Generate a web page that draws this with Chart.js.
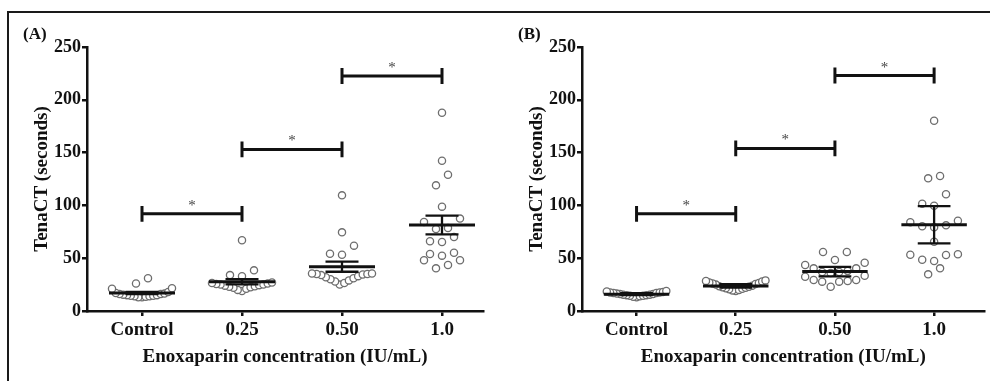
<!DOCTYPE html>
<html>
<head>
<meta charset="utf-8">
<script src="https://cdn.jsdelivr.net/npm/chart.js@4.4.1/dist/chart.umd.min.js"></script>
<style>
  html, body { margin: 0; padding: 0; background: #fff; }
  #page { position: relative; width: 990px; height: 381px; overflow: hidden; }
  .frame { position: absolute; left: 7px; top: 11px; right: -10px; bottom: -10px;
           border-top: 2px solid #1a1a1a; border-left: 2px solid #1a1a1a; }
  .panel { position: absolute; top: 0; width: 495px; height: 381px; }
  .tag { position: absolute; top: 24px; font: bold 17px 'Liberation Serif', serif; color: #111; }
</style>
</head>
<body>
<div id="page">
  <div class="frame"></div>
  <canvas id="chartA" class="panel" style="left:0" width="495" height="381"></canvas>
  <canvas id="chartB" class="panel" style="left:495px" width="495" height="381"></canvas>
  <div class="tag" style="left:23px">(A)</div>
  <div class="tag" style="left:518px">(B)</div>
</div>

<script>
// --- DATA ---
const categories = ['Control', '0.25', '0.50', '1.0'];
const yTicks = [0, 50, 100, 150, 200, 250];

// TenaCT (seconds), panel A
const aControl = [13, 13, 13.5, 14, 14, 14.5, 14.5, 15, 15, 15.5, 16, 16, 16.5, 17, 18, 21, 21.5, 26, 31];
const a025 = [19, 20, 21, 22, 22.5, 23, 23.5, 24, 24.5, 25, 25, 25.5, 26, 26.5, 27, 33, 34, 38.5, 67];
const a050 = [25, 26.5, 28, 29, 30, 31, 32, 33, 34, 34.5, 35, 35, 35.5, 35.5, 53.3, 54.2, 61.9, 74.5, 109.5];
const a100 = [40.4, 43.5, 48, 48, 52.4, 54, 55.2, 65.3, 66, 70, 77.6, 78.6, 84.3, 87.5, 98.8, 119, 129, 142.3, 187.8];

// TenaCT (seconds), panel B
const bControl = [13, 13.5, 14, 14.5, 14.5, 15, 15, 15.5, 15.5, 16, 16, 16.5, 17, 17, 17.5, 17.5, 18, 18.5, 19];
const b025 = [19, 19.5, 20, 20.5, 21, 21.5, 22, 22.5, 23, 23.5, 24, 25, 25.5, 26, 26.5, 27, 28, 28.5, 29];
const b050 = [23, 27.8, 27.8, 28.4, 29.4, 29.4, 32.5, 33.4, 36, 37, 37, 38, 40.4, 40.4, 43.6, 45.7, 48.3, 55.9, 55.9];
const b100 = [34.7, 40.4, 47.3, 48.6, 53, 53.3, 53.7, 65.6, 79.2, 80.2, 81.1, 84, 85.5, 99.7, 101.6, 110.5, 125.6, 127.8, 180.2];

// significance brackets: [from group, to group, height in seconds]
const aBrackets = [[0, 1, 92], [1, 2, 153], [2, 3, 222.5]];
const bBrackets = [[0, 1, 92], [1, 2, 154], [2, 3, 223]];

// A shows mean +/- SEM, B shows mean +/- 95% CI (t, df = 18)
const T95 = 2.101;

// --- LAYOUT HELPERS ---
const ROW_H = 11;     // seconds; values this close share a row of the dot plot
const STEP = 0.12;    // dot spacing inside a row (category units)
const HALF_W = 0.30;  // a row never gets wider than this either side
const FONT = "'Liberation Serif', 'Times New Roman', serif";

// Prism-like column scatter: rows of close values, lowest value in the middle
function swarm(values, cat) {
  const sorted = [...values].sort((p, q) => p - q);
  const rows = [];
  let row = [];
  sorted.forEach(v => {
    if (row.length && v - row[0] >= ROW_H) { rows.push(row); row = []; }
    row.push(v);
  });
  if (row.length) rows.push(row);

  const pts = [];
  rows.forEach(r => {
    const n = r.length;
    const step = n > 1 ? Math.min(STEP, 2 * HALF_W / (n - 1)) : 0;
    r.forEach((v, k) => {
      let slot;
      if (n % 2) slot = k === 0 ? 0 : (k % 2 ? -1 : 1) * Math.ceil(k / 2);
      else slot = (k % 2 ? 1 : -1) * (Math.floor(k / 2) + 0.5);
      pts.push({ x: cat + slot * step, y: v });
    });
  });
  return pts;
}

function stats(values) {
  const n = values.length;
  const mean = values.reduce((s, v) => s + v, 0) / n;
  const sd = Math.sqrt(values.reduce((s, v) => s + (v - mean) ** 2, 0) / (n - 1));
  return { mean, sem: sd / Math.sqrt(n) };
}

function lineSet(points, width) {
  return {
    type: 'scatter', data: points, showLine: true, tension: 0,
    borderColor: '#111', borderWidth: width, borderCapStyle: 'butt',
    pointRadius: 0, order: 1
  };
}

const starPlugin = {
  id: 'stars',
  afterDatasetsDraw(chart, args, opts) {
    const { ctx, scales: { x, y } } = chart;
    ctx.save();
    ctx.font = '15px ' + FONT;
    ctx.fillStyle = '#444';
    ctx.textAlign = 'center';
    ctx.textBaseline = 'alphabetic';
    opts.brackets.forEach(([a, b, v]) => {
      ctx.fillText('*', x.getPixelForValue((a + b) / 2), y.getPixelForValue(v) - 4);
    });
    ctx.restore();
  }
};

function makePanel(id, groups, brackets, errMult, xMax, padRight) {
  const dots = [];
  const datasets = [];
  groups.forEach((vals, i) => {
    dots.push(...swarm(vals, i));
    const s = stats(vals);
    const m = s.mean, e = s.sem * errMult;
    datasets.push(lineSet([{ x: i - 0.33, y: m }, { x: i + 0.33, y: m }], 3));
    datasets.push(lineSet([
      { x: i - 0.165, y: m + e }, { x: i + 0.165, y: m + e }, { x: i, y: m + e },
      { x: i, y: m - e }, { x: i - 0.165, y: m - e }, { x: i + 0.165, y: m - e }
    ], 2.3));
  });
  brackets.forEach(([a, b, v]) => {
    datasets.push(lineSet([
      { x: a, y: v + 7.5 }, { x: a, y: v - 7.5 }, { x: a, y: v },
      { x: b, y: v }, { x: b, y: v + 7.5 }, { x: b, y: v - 7.5 }
    ], 3));
  });
  datasets.push({
    type: 'scatter', data: dots, pointRadius: 3.6, pointBorderWidth: 1.3,
    pointBorderColor: '#6e6e6e', pointBackgroundColor: '#fff', order: 3
  });

  new Chart(document.getElementById(id), {
    type: 'scatter',
    data: { datasets },
    options: {
      responsive: false, animation: false,
      layout: { padding: { top: 47, right: padRight, bottom: 0, left: 0 } },
      plugins: { legend: { display: false }, tooltip: { enabled: false }, stars: { brackets } },
      scales: {
        x: {
          type: 'linear', min: -0.55, max: xMax,
          afterBuildTicks: s => { s.ticks = categories.map((c, i) => ({ value: i })); },
          afterFit: s => { s.height = 70; },
          ticks: {
            callback: v => categories[v], color: '#111', padding: 3,
            font: { family: FONT, size: 19, weight: 'bold' }
          },
          grid: { drawOnChartArea: false, tickLength: 5, lineWidth: 2.5, color: '#111' },
          border: { color: '#111', width: 2.5 },
          title: {
            display: true, text: 'Enoxaparin concentration (IU/mL)', color: '#111',
            font: { family: FONT, size: 19, weight: 'bold' }, padding: { top: 0, bottom: 13 }
          }
        },
        y: {
          min: 0, max: 250,
          afterBuildTicks: s => { s.ticks = yTicks.map(v => ({ value: v })); },
          afterFit: s => { s.width = 87; },
          ticks: { color: '#111', padding: 1, font: { family: FONT, size: 18, weight: 'bold' } },
          grid: { drawOnChartArea: false, tickLength: 5, lineWidth: 2.5, color: '#111' },
          border: { color: '#111', width: 2.5 },
          title: {
            display: true, text: 'TenaCT (seconds)', color: '#111',
            font: { family: FONT, size: 19, weight: 'bold' }, padding: { top: 31, bottom: 0 }
          }
        }
      }
    },
    plugins: [starPlugin]
  });
}

makePanel('chartA', [aControl, a025, a050, a100], aBrackets, 1, 3.41, 12);
makePanel('chartB', [bControl, b025, b050, b100], bBrackets, T95, 3.51, 3);
</script>
</body>
</html>
